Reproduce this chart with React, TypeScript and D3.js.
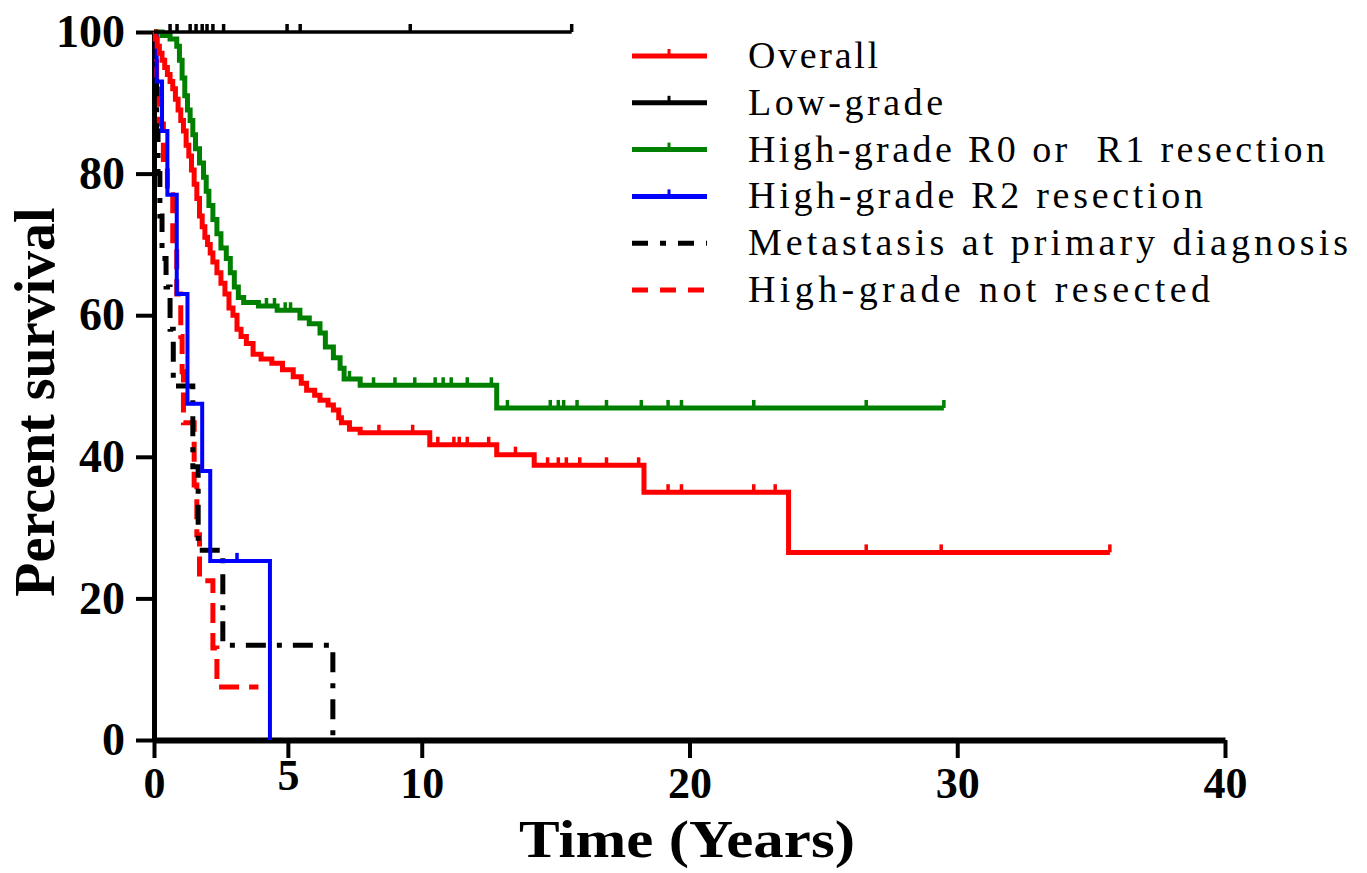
import React, { useEffect, useRef } from 'react';
import * as d3 from 'd3';

// Kaplan-Meier steps: [years, percent surviving], last point = end of follow-up
const overallCurve = [
  [0, 100], [0.05, 99], [0.12, 98], [0.2, 97], [0.3, 96], [0.4, 95], [0.5, 94], [0.6, 93],
  [0.7, 92], [0.8, 90.5], [0.9, 89], [1.0, 87.5], [1.1, 86], [1.2, 84], [1.3, 82.5],
  [1.4, 80.5], [1.5, 78.5], [1.6, 76.5], [1.7, 74], [1.8, 72.5], [1.9, 71], [2.0, 70],
  [2.1, 68.8], [2.2, 67.5], [2.35, 66], [2.5, 64.5], [2.65, 63], [2.8, 61], [2.95, 60],
  [3.1, 58], [3.25, 57], [3.45, 56], [3.7, 54.5], [4.0, 53.8], [4.4, 53.2], [4.8, 52.3],
  [5.2, 51.3], [5.5, 50.4], [5.7, 49.4], [6.0, 48.7], [6.2, 48], [6.5, 47.3], [6.7, 46.6],
  [6.9, 45.5], [7.0, 44.8], [7.3, 43.9], [7.7, 43.4], [10.3, 41.7], [12.8, 40.3],
  [14.2, 38.8], [18.3, 35.0], [23.7, 26.5], [35.7, 26.5]
];
const overallCensor = [8.4, 9.66, 10.6, 11.2, 11.4, 11.7, 12.5, 13.5, 14.7, 15.1, 15.4, 15.9,
  16.9, 18.1, 19.2, 19.7, 22.4, 23.2, 26.6, 29.4, 35.7];

const lowGradeCurve = [[0, 100], [15.6, 100]];
const lowGradeCensor = [0.6, 0.86, 1.35, 1.57, 1.8, 1.98, 2.2, 2.6, 4.97, 5.46, 9.57, 15.6];

const r0r1Curve = [
  [0, 100], [0.3, 99.5], [0.6, 99], [0.85, 98], [0.95, 96], [1.05, 93.5], [1.15, 91],
  [1.25, 89], [1.35, 87.5], [1.45, 85.5], [1.55, 83.5], [1.7, 81.5], [1.85, 79.5],
  [1.95, 77.5], [2.05, 75.5], [2.2, 73.5], [2.35, 71.5], [2.5, 69.5], [2.7, 68], [2.85, 66],
  [3.0, 64], [3.15, 62.5], [3.35, 61.8], [3.9, 61.3], [4.6, 60.7], [5.45, 59.6], [5.8, 58.8],
  [6.2, 57.5], [6.4, 55.5], [6.7, 54], [6.95, 52.5], [7.1, 51], [7.7, 50.1], [12.8, 46.9],
  [29.5, 46.9]
];
const r0r1Censor = [4.2, 4.5, 4.9, 5.1, 7.3, 8.2, 9.0, 9.74, 10.5, 10.8, 11.1, 11.7, 12.6,
  13.2, 14.8, 15.1, 15.3, 15.8, 16.9, 18.2, 19.2, 19.7, 22.4, 26.6, 29.5];

const r2Curve = [
  [0, 100], [0.1, 93], [0.3, 86], [0.5, 77], [0.85, 63], [1.25, 47.5], [1.8, 38],
  [2.1, 25.3], [4.33, 0]
];
const r2Censor = [3.1];

const metastasisCurve = [
  [0, 100], [0.05, 93], [0.1, 86], [0.15, 80], [0.22, 74], [0.3, 68], [0.45, 64],
  [0.6, 58], [0.72, 50], [1.45, 38.6], [1.65, 26.8], [2.57, 13.4], [6.68, 0]
];

const notResectedCurve = [
  [0, 100], [0.1, 93], [0.2, 87], [0.35, 82], [0.5, 77], [0.7, 70], [0.85, 63], [1.0, 57],
  [1.05, 52], [1.1, 44.8], [1.5, 36], [1.6, 29], [1.7, 22.5], [2.2, 13], [2.35, 7.5],
  [3.9, 7.5]
];

const xTicks = [0, 5, 10, 20, 30, 40];
const yTicks = [0, 20, 40, 60, 80, 100];

const legendLabels = [
  'Overall',
  'Low-grade',
  'High-grade R0 or  R1 resection',
  'High-grade R2 resection',
  'Metastasis at primary diagnosis',
  'High-grade not resected'
];
const legendWidths = [130, 195, 577, 455, 600, 462];

const serif = '"Liberation Serif", "Times New Roman", serif';

export default function App() {
  const svgRef = useRef(null);

  useEffect(() => {
    if (!svgRef.current) return;
    const width = 1367;
    const height = 873;

    const svg = d3.select(svgRef.current);
    svg.selectAll('*').remove();
    svg.attr('width', width).attr('height', height).style('background', '#fff');

    const x = d3.scaleLinear().domain([0, 40]).range([154, 1225]);
    const y = d3.scaleLinear().domain([0, 100]).range([740, 32]);

    const series = [
      { curve: notResectedCurve, censor: [], color: '#ff0000', w: 5, dash: '20,10' },
      { curve: metastasisCurve, censor: [], color: '#000', w: 5, dash: '20,11,5,11' },
      { curve: r2Curve, censor: r2Censor, color: '#0000ff', w: 4, dash: null },
      { curve: r0r1Curve, censor: r0r1Censor, color: '#008000', w: 5, dash: null },
      { curve: overallCurve, censor: overallCensor, color: '#ff0000', w: 5, dash: null },
      { curve: lowGradeCurve, censor: lowGradeCensor, color: '#000', w: 3.5, dash: null }
    ];

    const line = d3.line()
      .x(d => x(d[0]))
      .y(d => y(d[1]))
      .curve(d3.curveStepAfter);

    const valueAt = (curve, t) => {
      let p = curve[0][1];
      curve.forEach(d => { if (d[0] <= t) p = d[1]; });
      return p;
    };

    // axes
    const yAxis = svg.append('g')
      .attr('transform', `translate(${x(0)},0)`)
      .call(d3.axisLeft(y).tickValues(yTicks).tickSize(18).tickSizeOuter(0).tickPadding(11));
    yAxis.select('.domain').attr('stroke', '#000').attr('stroke-width', 5);
    yAxis.selectAll('.tick line').attr('stroke', '#000').attr('stroke-width', 4);
    yAxis.selectAll('.tick text')
      .attr('font-family', serif).attr('font-size', 46).attr('font-weight', 'bold').attr('fill', '#000');

    const xAxis = svg.append('g')
      .attr('transform', `translate(0,${y(0)})`)
      .call(d3.axisBottom(x).tickValues(xTicks).tickSize(18).tickSizeOuter(0).tickPadding(19));
    xAxis.select('.domain').attr('stroke', '#000').attr('stroke-width', 6);
    xAxis.selectAll('.tick line').attr('stroke', '#000').attr('stroke-width', 4);
    xAxis.selectAll('.tick text')
      .attr('font-family', serif).attr('font-size', 44).attr('font-weight', 'bold').attr('fill', '#000')
      .attr('dy', null)
      .attr('y', d => (d === 5 ? 50 : 58));

    // curves
    series.forEach(s => {
      svg.append('path')
        .attr('d', line(s.curve))
        .attr('fill', 'none')
        .attr('stroke', s.color)
        .attr('stroke-width', s.w)
        .attr('stroke-dasharray', s.dash)
        .attr('stroke-linejoin', 'miter');

      s.censor.forEach(t => {
        const p = valueAt(s.curve, t);
        svg.append('line')
          .attr('x1', x(t)).attr('x2', x(t))
          .attr('y1', y(p)).attr('y2', y(p) - 8)
          .attr('stroke', s.color)
          .attr('stroke-width', 3.5);
      });
    });

    // legend
    const legendOrder = [4, 5, 3, 2, 1, 0];
    legendLabels.forEach((label, i) => {
      const s = series[legendOrder[i]];
      const ly = 56 + i * 46.8;
      svg.append('line')
        .attr('x1', 632).attr('x2', 707)
        .attr('y1', ly).attr('y2', ly)
        .attr('stroke', s.color)
        .attr('stroke-width', 5)
        .attr('stroke-dasharray', s.dash ? (i === 4 ? '16,12,6,12' : '16,12') : null);
      if (!s.dash) {
        svg.append('line')
          .attr('x1', 669).attr('x2', 669)
          .attr('y1', ly).attr('y2', ly - 7)
          .attr('stroke', s.color).attr('stroke-width', 3);
      }
      svg.append('text')
        .attr('x', 748)
        .attr('y', ly + 12)
        .attr('font-family', serif)
        .attr('font-size', 38)
        .attr('textLength', legendWidths[i])
        .attr('lengthAdjust', 'spacing')
        .attr('fill', '#000')
        .style('white-space', 'pre')
        .text(label);
    });

    // axis titles
    svg.append('text')
      .attr('transform', 'translate(54,402) rotate(-90)')
      .attr('text-anchor', 'middle')
      .attr('font-family', serif)
      .attr('font-size', 56)
      .attr('font-weight', 'bold')
      .text('Percent survival');

    svg.append('text')
      .attr('x', 687)
      .attr('y', 857)
      .attr('text-anchor', 'middle')
      .attr('font-family', serif)
      .attr('font-size', 52)
      .attr('font-weight', 'bold')
      .attr('textLength', 336)
      .attr('lengthAdjust', 'spacingAndGlyphs')
      .text('Time (Years)');
  }, []);

  return (
    <div style={{ position: 'absolute', left: 0, top: 0 }}>
      <svg ref={svgRef}></svg>
    </div>
  );
}
